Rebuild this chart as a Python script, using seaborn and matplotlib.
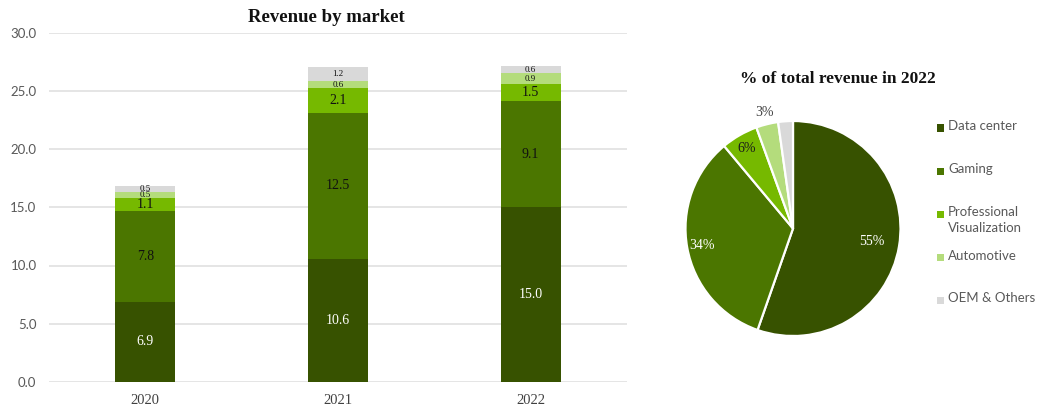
import matplotlib
matplotlib.use("Agg")
import numpy as np
import pandas as pd
import matplotlib.pyplot as plt
import seaborn as sns
from matplotlib.patches import Rectangle

# 数据
years = ["2020", "2021", "2022"]
markets = ["Data center", "Gaming", "Professional\nVisualization", "Automotive", "OEM & Others"]
data_center = [6.9, 10.6, 15.0]
gaming = [7.8, 12.5, 9.1]
pro_viz = [1.1, 2.1, 1.5]
automotive = [0.5, 0.6, 0.9]
oem_others = [0.5, 1.2, 0.6]
y_ticks = [0, 5, 10, 15, 20, 25, 30]

series = [data_center, gaming, pro_viz, automotive, oem_others]
colors = ["#375200", "#4B7600", "#76B900", "#B4DC7C", "#D9D9D9"]

SERIF = "Liberation Serif"
SANS = "Lato"

sns.set_theme(style="white")
plt.rcParams["font.family"] = [SANS, "DejaVu Sans"]

fig = plt.figure(figsize=(10.38, 4.09), dpi=100)
W, H = 1038, 409

# ---- 左侧: 堆叠柱状图 ----
ax = fig.add_axes([49 / W, 1 - 382 / H, (627 - 49) / W, (382 - 32.5) / H])

df = pd.DataFrame({"year": years})
cum = np.zeros(len(years))
cums = []
for s in series:
    cum = cum + np.array(s)
    cums.append(cum.copy())

# 从最高的累计值往下画, 底层覆盖上层
for i in reversed(range(len(series))):
    df["total"] = cums[i]
    sns.barplot(data=df, x="year", y="total", color=colors[i], saturation=1,
                width=0.31, linewidth=0, ax=ax)

# 数值标签
bottom = np.zeros(len(years))
for i, s in enumerate(series):
    for j, v in enumerate(s):
        small = i >= 3
        ax.text(j, bottom[j] + v / 2, f"{v:.1f}", ha="center", va="center",
                fontsize=6.5 if small else 10, family=SERIF,
                color="white" if i == 0 else "#111111")
    bottom = bottom + np.array(s)

ax.set_xlim(-0.5, 2.5)
ax.set_ylim(0, 30)
ax.set_yticks(y_ticks)
ax.set_yticklabels([f"{t:.1f}" for t in y_ticks], color="#595959", fontsize=9.5, family=SANS)
ax.set_xticks(range(len(years)))
ax.set_xticklabels(years, color="#404040", fontsize=10.5, family=SERIF)
ax.tick_params(axis="both", length=0)
ax.tick_params(axis="y", pad=9)
ax.tick_params(axis="x", pad=9)
ax.set_xlabel("")
ax.set_ylabel("")
ax.set_axisbelow(True)
ax.yaxis.grid(True, color="#E3E3E3", linewidth=1.3)
for sp in ax.spines.values():
    sp.set_visible(False)

fig.text(326 / W, 1 - 18 / H, "Revenue by market", ha="center", va="center",
         fontsize=13.5, fontweight="bold", family=SERIF, color="#111111")

# ---- 右侧: 2022 饼图 ----
values_2022 = [s[2] for s in series]
total = sum(values_2022)
cx, cy, r = 793, 228.5, 107.5
ax2 = fig.add_axes([(cx - r) / W, 1 - (cy + r) / H, 2 * r / W, 2 * r / H])
wedges, _ = ax2.pie(values_2022, colors=colors, startangle=90, counterclock=False,
                    wedgeprops=dict(edgecolor="white", linewidth=1.6))
ax2.set_xlim(-1, 1)
ax2.set_ylim(-1, 1)
ax2.set_aspect("equal")

label_dist = [0.74, 0.86, 0.86, 1.11, None]
label_col = ["white", "white", "#1a1a1a", "#404040", None]
for w, v, d, c in zip(wedges, values_2022, label_dist, label_col):
    if d is None:
        continue
    ang = np.deg2rad((w.theta1 + w.theta2) / 2)
    ax2.text(d * np.cos(ang), d * np.sin(ang), f"{round(v / total * 100):.0f}%",
             ha="center", va="center", fontsize=10, family=SERIF, color=c)

fig.text(838 / W, 1 - 79 / H, "% of total revenue in 2022", ha="center", va="center",
         fontsize=12.5, fontweight="bold", family=SERIF, color="#111111")

# 图例
legend_y = [128, 171, 214, 257, 300]
for lab, col, y in zip(markets, colors, legend_y):
    fig.patches.append(Rectangle((937 / W, 1 - (y + 3.5) / H), 7 / W, 7 / H,
                                 transform=fig.transFigure, facecolor=col,
                                 edgecolor="none", figure=fig))
    fig.text(948 / W, 1 - (y - 7.5) / H, lab, ha="left", va="top", fontsize=9.5,
             family=SANS, color="#595959", linespacing=1.35)

fig.savefig("out.png", dpi=100)
